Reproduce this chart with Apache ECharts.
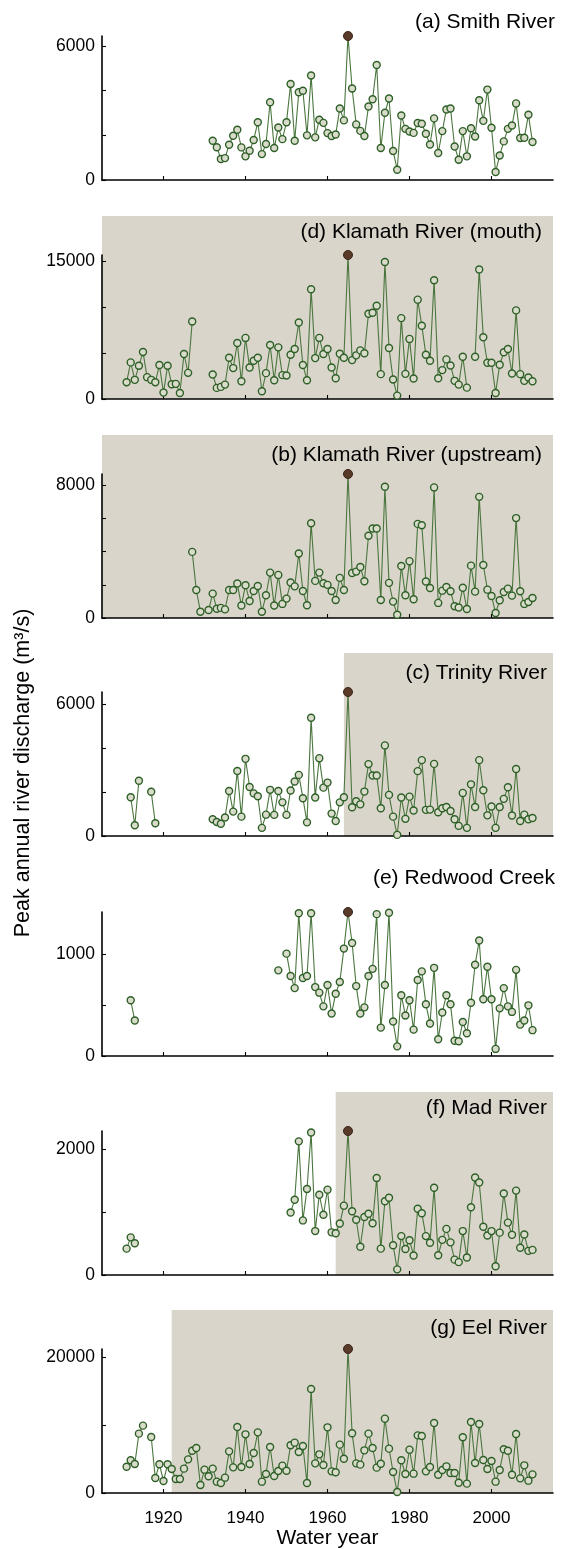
<!DOCTYPE html>
<html><head><meta charset="utf-8">
<script src="https://cdn.jsdelivr.net/npm/echarts@6/dist/echarts.min.js"></script>
<style>html,body{margin:0;padding:0;background:#fff}#c{width:568px;height:1549px}</style>
</head><body><div id="c"></div>
<script>
// ---- DATA ----
const years = [
 1911,1912,1913,1914,1915,1916,1917,1918,1919,1920,
 1921,1922,1923,1924,1925,1926,1927,1928,1929,1930,
 1931,1932,1933,1934,1935,1936,1937,1938,1939,1940,
 1941,1942,1943,1944,1945,1946,1947,1948,1949,1950,
 1951,1952,1953,1954,1955,1956,1957,1958,1959,1960,
 1961,1962,1963,1964,1965,1966,1967,1968,1969,1970,
 1971,1972,1973,1974,1975,1976,1977,1978,1979,1980,
 1981,1982,1983,1984,1985,1986,1987,1988,1989,1990,
 1991,1992,1993,1994,1995,1996,1997,1998,1999,2000,
 2001,2002,2003,2004,2005,2006,2007,2008,2009,2010];
const smith = [
 null,null,null,null,null,null,null,null,null,null,
 null,null,null,null,null,null,null,null,null,null,
 null,1760,1470,940,980,1580,1980,2250,1460,1060,
 1310,1790,2590,1160,1610,3480,1430,2350,1830,2590,
 4300,1760,3930,4000,2000,4680,1910,2700,2560,2100,
 1970,2040,3200,2670,6450,4100,2490,2200,1970,3290,
 3620,5150,1430,3010,3650,1300,460,2890,2290,2170,
 2110,2550,2520,2070,1590,2760,1210,2190,3160,3200,
 1500,910,2190,1060,2320,1950,3570,2650,4050,2340,
 360,1100,1730,2290,2440,3430,1880,1890,2920,1700];
const klamathMouth = [
 1830,3990,2090,3620,5120,2380,2090,1830,3700,700,
 3620,1610,1650,660,4900,2850,8450,null,null,null,
 null,2670,1210,1320,1570,4500,3370,6110,1940,6660,
 3440,4170,4500,840,2820,5890,2050,5630,2600,2560,
 4830,5450,8340,3700,2050,11960,4460,6660,4900,5450,
 3440,2270,4940,4500,15700,4240,4760,5300,4980,9290,
 9400,10170,2710,14930,5560,2120,370,8820,2740,6550,
 2230,10830,7980,4830,4170,12950,2270,3150,4320,3660,
 1980,1570,4610,1240,null,4610,14120,6730,3950,3950,
 660,3730,5090,5450,2780,9660,2710,1980,2340,1940];
const klamathUp = [
 null,null,null,null,null,null,null,null,null,null,
 null,null,null,null,null,null,3990,1690,380,null,
 480,1470,560,610,520,1690,1690,2080,750,1980,
 1030,1630,1930,380,1370,2740,750,2600,850,1170,
 2140,1910,3890,1630,770,5720,2240,2740,2100,2000,
 1630,1090,2420,1690,8690,2720,2800,3080,2220,4960,
 5400,5400,1090,7920,2120,990,200,3140,1370,3430,
 1130,5680,5600,2200,1810,7880,910,1650,1870,1610,
 710,630,1830,540,3160,1590,7310,3200,1710,1330,
 300,1070,1570,1770,1350,6030,1610,850,970,1210];
const trinity = [
 null,1760,490,2510,null,null,2010,580,null,null,
 null,null,null,null,null,null,null,null,null,null,
 null,760,640,560,840,2050,1110,2960,880,3510,
 2230,1940,1810,370,970,2100,960,2050,1530,960,
 2070,2480,2780,1720,620,5380,1750,3540,2200,2430,
 1020,680,1530,1760,6550,1310,1580,1440,2020,3270,
 2750,2750,1260,4120,1870,880,50,1750,780,1790,
 1160,2950,3450,1190,1200,3280,1080,1260,1320,1140,
 760,460,1960,370,2350,1320,3450,2080,940,1340,
 370,1320,1690,2220,930,3050,680,970,760,820];
const redwood = [
 null,550,350,null,null,null,null,null,null,null,
 null,null,null,null,null,null,null,null,null,null,
 null,null,null,null,null,null,null,null,null,null,
 null,null,null,null,null,null,null,845,null,1010,
 790,670,1408,770,790,1408,680,625,490,700,
 420,615,730,1060,1421,1115,690,420,480,790,
 860,1400,280,700,1414,340,95,600,400,550,
 260,750,835,510,320,870,165,430,600,510,
 150,145,335,225,525,900,1140,560,880,560,
 70,470,670,490,435,850,310,350,500,255];
const mad = [
 420,600,505,null,null,null,null,null,null,null,
 null,null,null,null,null,null,null,null,null,null,
 null,null,null,null,null,null,null,null,null,null,
 null,null,null,null,null,null,null,null,null,null,
 995,1200,2130,870,1370,2270,700,1280,960,1360,
 680,665,820,1105,2295,1015,880,450,925,975,
 825,1545,420,1175,1230,475,90,620,415,555,
 310,1055,985,620,515,1390,315,560,735,520,
 245,205,700,280,1080,1555,1475,770,630,700,
 140,675,1300,835,640,1345,435,645,385,400];
const eel = [
 3880,4820,4280,8750,9930,null,8260,2210,4230,1770,
 4230,3540,2060,2060,3590,4960,6240,6630,1180,3440,
 2460,3590,1670,1470,2260,6140,3780,9730,3830,8650,
 4280,5900,8940,1670,2800,6780,2510,3240,4030,3290,
 7030,7420,6040,6930,1470,15330,4370,5700,4130,9680,
 3190,3050,7130,5060,21230,8800,4370,4180,6290,8750,
 6630,3740,4320,10960,6540,3100,150,4820,2800,6390,
 2850,8500,8400,3190,3830,10320,2700,3390,3930,2950,
 2950,1520,8210,1380,10470,4420,10170,4870,3540,4720,
 1670,3390,6440,6240,2700,8700,2160,4080,1820,2750];
const panelNames = ['(a) Smith River','(d) Klamath River (mouth)','(b) Klamath River (upstream)',
  '(c) Trinity River','(e) Redwood Creek','(f) Mad River','(g) Eel River'];
const panelValues = [smith, klamathMouth, klamathUp, trinity, redwood, mad, eel];
const yTickValues = [[0,2000,4000,6000],[0,5000,10000,15000],[0,2000,4000,6000,8000],
  [0,2000,4000,6000],[0,500,1000],[0,1000,2000],[0,10000,20000]];
const yLabelValues = [[0,6000],[0,15000],[0,8000],[0,6000],[0,1000],[0,2000],[0,20000]];
const xTickValues = [1920,1940,1960,1980,2000];
const xRange = [1905, 2015];
const shadeStart = [null,1905,1905,1964,null,1962,1922];
const xAxisTitle = 'Water year';
const yAxisTitle = 'Peak annual river discharge (m\u00B3/s)';

// ---- LAYOUT / STYLE ----
const FONT = '"Liberation Sans", Arial, Helvetica, sans-serif';
const gridLeft = 102, gridRight = 15, gridH = 144;
const gridTops = [36, 255, 474, 692, 912, 1131, 1349];
const titleRight = [555, 542, 542, 547, 555, 547, 547];
const titleY = [22, 232, 455, 673, 878, 1108, 1328];
const shadeAbove = 39;
const shadeColor = '#d9d5ca';
const lineColor = '#4a763e';
const symBorder = '#2d5f27';
const symFill = '#dadccb';
const peakFill = '#5a3a28';
const peakBorder = '#3a2417';

const chart = echarts.init(document.getElementById('c'), null, {renderer: 'canvas'});
const n = panelValues.length;
const grids = [], xAxes = [], yAxes = [], series = [];
for (let i = 0; i < n; i++) {
  grids.push({left: gridLeft, right: gridRight, top: gridTops[i], height: gridH,
    containLabel: false, outerBoundsMode: 'none'});
  const last = i === n - 1;
  xAxes.push({type: 'value', gridIndex: i, min: xRange[0], max: xRange[1],
    axisLine: {show: true, onZero: false, lineStyle: {color: '#000', width: 1.6}},
    axisTick: {show: true, inside: true, length: 4, customValues: xTickValues,
      lineStyle: {color: '#000', width: 1.1}},
    axisLabel: {show: last, customValues: xTickValues, margin: 17, fontSize: 17,
      color: '#000', fontFamily: FONT, formatter: v => String(v)},
    splitLine: {show: false},
    name: last ? xAxisTitle : '', nameLocation: 'middle', nameGap: 34,
    nameTextStyle: {fontSize: 21, color: '#000', fontFamily: FONT}});
  const lab = yLabelValues[i];
  yAxes.push({type: 'value', gridIndex: i, min: 0, max: 'dataMax',
    axisLine: {show: true, onZero: false, lineStyle: {color: '#000', width: 1.6}},
    axisTick: {show: true, inside: true, length: 4, customValues: yTickValues[i],
      lineStyle: {color: '#000', width: 1.1}},
    axisLabel: {show: true, customValues: lab, margin: 7, fontSize: 17.5, color: '#000',
      fontFamily: FONT, formatter: v => String(v)},
    splitLine: {show: false}});
  const vals = panelValues[i];
  let peakIdx = 0;
  vals.forEach((v, k) => { if (v != null && (vals[peakIdx] == null || v > vals[peakIdx])) peakIdx = k; });
  const data = years.map((y, k) => {
    const v = vals[k];
    if (v == null) return [y, '-'];
    if (k === peakIdx) return {value: [y, v], symbolSize: 9,
      itemStyle: {color: peakFill, borderColor: peakBorder, borderWidth: 1}};
    return [y, v];
  });
  series.push({type: 'line', xAxisIndex: i, yAxisIndex: i, data: data,
    clip: false, connectNulls: false, symbol: 'circle', symbolSize: 7,
    showSymbol: true, showAllSymbol: true,
    lineStyle: {color: lineColor, width: 1.1},
    itemStyle: {color: symFill, borderColor: symBorder, borderWidth: 1.4},
    emphasis: {disabled: true}, z: 3});
}

chart.setOption({
  animation: false,
  backgroundColor: '#fff',
  grid: grids, xAxis: xAxes, yAxis: yAxes, series: series
});

// shading rectangles and texts (positions from the chart's own scales)
const graphics = [];
for (let i = 0; i < n; i++) {
  if (shadeStart[i] != null) {
    const x0 = chart.convertToPixel({xAxisIndex: i}, shadeStart[i]);
    const x1 = chart.convertToPixel({xAxisIndex: i}, xRange[1]);
    const yb = chart.convertToPixel({yAxisIndex: i}, 0);
    const yt = gridTops[i] - shadeAbove;
    graphics.push({type: 'rect', z: -10, silent: true,
      shape: {x: x0, y: yt, width: x1 - x0, height: yb - yt},
      style: {fill: shadeColor}});
  }
  graphics.push({type: 'text', z: 10, silent: true, x: titleRight[i], y: titleY[i],
    style: {text: panelNames[i], fill: '#000', fontSize: 21, fontFamily: FONT,
      textAlign: 'right', textVerticalAlign: 'middle'}});
}
graphics.push({type: 'text', z: 10, silent: true, x: 23, y: 773, rotation: Math.PI / 2,
  style: {text: yAxisTitle, fill: '#000', fontSize: 21.5, fontFamily: FONT,
    textAlign: 'center', textVerticalAlign: 'middle'}});
chart.setOption({graphic: graphics});
</script></body></html>
